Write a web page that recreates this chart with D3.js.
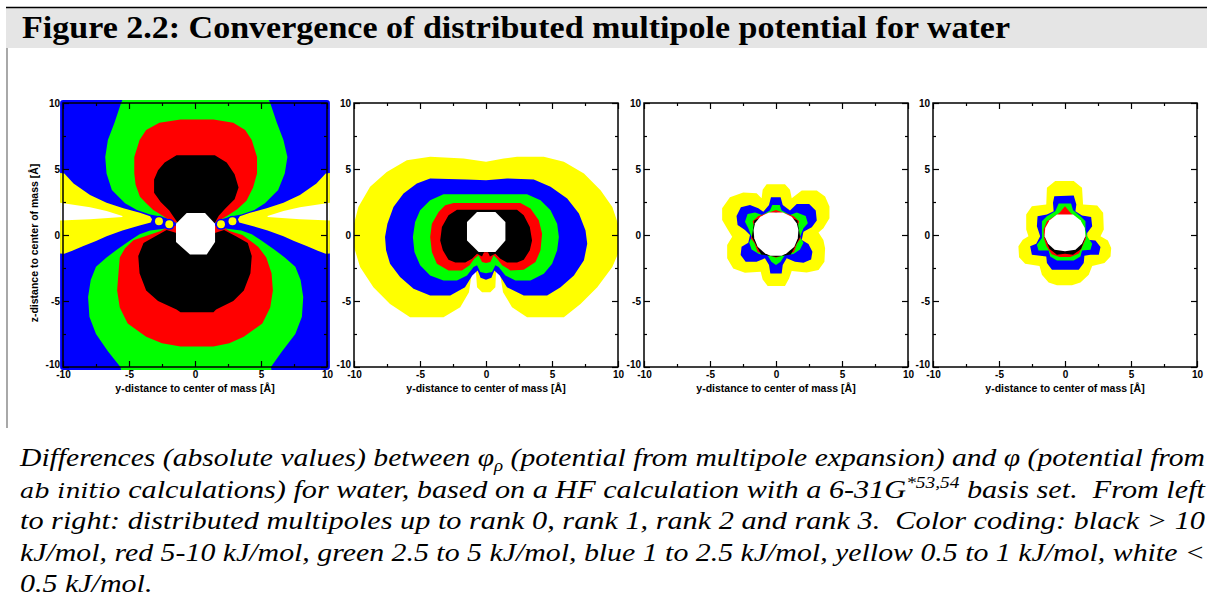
<!DOCTYPE html>
<html>
<head>
<meta charset="utf-8">
<script src="https://cdn.jsdelivr.net/npm/d3@7"></script>
<style>
  body { margin: 0; background: #ffffff; }
  svg { display: block; }
</style>
</head>
<body>
<svg id="fig" width="1207" height="612"></svg>
<script>
// ---------------- data (y, z coordinates in Å) ----------------
const axisTicks = [-10, -5, 0, 5, 10];
const minorTicks = [-7.5, -2.5, 2.5, 7.5];
const levelNames = ["black", "red", "green", "blue", "yellow", "white"];
const levelColors = ["#000000", "#ff0000", "#00ff00", "#0000ff", "#ffff00", "#ffffff"];

// rank 0
const rank0Blue = [[-10.22,-10.22],[10.22,-10.22],[10.22,10.22],[-10.22,10.22]];
const rank0GreenUpper = [[-5.5,10.22],[-5.6,10],[-6.1,8.5],[-6.6,7.2],[-6.8,5.9],[-6.7,4.65],[-6.3,3.4],[-5.3,2.4],[-4.4,1.9],[-3.4,1.55],[-2.6,1.4],[-1.8,1.15],[-1.4,0.9],[1.5,0.9],[1.9,1.15],[2.7,1.4],[3.5,1.55],[4.5,1.9],[5.3,2.4],[6.3,3.4],[6.8,4.65],[7.0,5.9],[6.7,7.2],[6.2,8.5],[5.7,10],[5.6,10.22]];
const rank0GreenLower = [[-1.5,0.6],[-2.5,0.45],[-3.4,0.35],[-4.2,0.05],[-4.9,-0.4],[-5.9,-1.1],[-6.7,-1.7],[-7.5,-2.4],[-7.9,-3.4],[-8.1,-4.7],[-8.0,-6.2],[-7.5,-7.5],[-6.6,-8.8],[-5.65,-10],[-5.6,-10.22],[5.8,-10.22],[5.75,-10],[6.6,-8.8],[7.6,-7.5],[8.1,-6.2],[8.2,-4.7],[8.0,-3.4],[7.6,-2.4],[6.8,-1.7],[6.0,-1.1],[5.0,-0.4],[4.3,0.05],[3.5,0.35],[2.6,0.45],[1.6,0.6]];
const rank0RedUpper = [[-1.5,0.95],[-2.15,1.26],[-2.6,1.55],[-3.16,1.9],[-3.7,2.4],[-4.17,2.9],[-4.5,3.8],[-4.6,4.66],[-4.6,5.9],[-4.2,7.2],[-3.7,7.95],[-2.7,8.5],[-1.1,8.75],[1.4,8.75],[2.9,8.5],[3.8,7.95],[4.3,7.2],[4.7,5.9],[4.7,4.66],[4.4,3.6],[3.9,2.6],[3.2,1.95],[2.6,1.55],[2.0,1.2],[1.6,0.95]];
const rank0RedLower = [[-1.5,0.7],[-1.8,0.75],[-2.6,0.3],[-3.5,0.0],[-4.67,-0.4],[-5.3,-1.0],[-5.7,-1.7],[-5.8,-2.9],[-5.9,-4.2],[-5.7,-5.5],[-5.1,-6.7],[-3.7,-7.7],[-2.5,-8.2],[-1.1,-8.45],[1.4,-8.45],[2.6,-8.2],[3.7,-7.7],[5.1,-6.7],[5.7,-5.5],[5.9,-4.2],[5.8,-2.9],[5.4,-1.7],[4.8,-0.9],[3.6,0.0],[2.6,0.3],[1.9,0.75],[1.6,0.7]];
const rank0BlackUpper = [[-1.3,0.9],[-1.6,1.35],[-1.95,1.85],[-2.6,2.5],[-3.1,3.2],[-3.1,4.2],[-2.8,4.9],[-2.3,5.5],[-1.4,6.05],[1.5,6.05],[2.4,5.5],[3.0,4.6],[3.3,3.6],[3.0,2.7],[2.3,2.0],[1.8,1.45],[1.5,0.9]];
const rank0BlackLower = [[-1.4,0.15],[-2.15,0.38],[-3.0,-0.1],[-3.9,-0.6],[-4.3,-1.6],[-4.2,-2.9],[-3.7,-4.2],[-2.8,-5.0],[-1.4,-5.65],[-1.1,-5.85],[1.4,-5.85],[1.6,-5.65],[2.9,-5.0],[3.7,-4.2],[4.2,-2.9],[4.3,-1.6],[4.0,-0.6],[3.1,-0.1],[2.2,0.38],[1.5,0.15]];
const rank0White = [[-0.63,1.67],[0.76,1.67],[1.52,0.86],[1.52,-0.53],[0.89,-1.47],[-0.38,-1.47],[-1.44,-0.53],[-1.44,0.86]];
const rank0YellowLeft = [[-10.22,4.7],[-9.9,4.66],[-9.2,3.9],[-7.95,3.03],[-6.7,2.45],[-5.43,2.02],[-4.17,1.69],[-3.4,1.42],[-3.25,1.2],[-3.35,0.95],[-4.2,0.72],[-5.5,0.35],[-6.7,-0.1],[-7.5,-0.45],[-8.5,-0.85],[-9.3,-1.2],[-9.9,-1.42],[-10.22,-1.4]];
const rank0YellowRight = [[10.22,4.7],[9.9,4.66],[9.2,3.9],[7.95,3.03],[6.7,2.45],[5.43,2.02],[4.17,1.69],[3.4,1.42],[3.25,1.2],[3.35,0.95],[4.2,0.72],[5.5,0.35],[6.7,-0.1],[7.5,-0.45],[8.5,-0.85],[9.3,-1.2],[9.9,-1.42],[10.22,-1.4]];
const rank0WhiteLeft = [[-10.22,2.45],[-7.95,2.1],[-6.7,1.82],[-5.5,1.44],[-5.5,1.36],[-7.95,1.19],[-10.22,1.09]];
const rank0WhiteRight = [[10.22,2.45],[7.95,2.1],[6.7,1.82],[5.5,1.44],[5.5,1.36],[7.95,1.19],[10.22,1.09]];
const rank0Dots = [[-2.73,1.04],[-1.95,0.81],[1.97,0.81],[2.84,1.04]];

// rank 1
const rank1Yellow = [[0,5.54],[1.34,5.8],[2.35,5.92],[4.38,5.92],[5.9,5.54],[7.42,4.66],[8.68,3.39],[9.57,2.13],[10,0.86],[10,-1.42],[9.57,-2.43],[8.43,-3.95],[7.16,-5.22],[5.9,-6.23],[3.11,-6.23],[1.97,-5.47],[1.29,-4.33],[1.04,-2.81],[0.76,-2.81],[0.71,-3.95],[0.33,-4.33],[-0.3,-4.33],[-0.68,-3.95],[-0.76,-2.81],[-1.06,-2.81],[-1.29,-4.33],[-1.95,-5.47],[-3.22,-6.23],[-5.75,-6.23],[-7.27,-5.22],[-8.53,-3.95],[-9.54,-2.43],[-10,-0.91],[-10,0.86],[-9.67,2.13],[-8.78,3.65],[-7.52,4.78],[-6.0,5.67],[-4.23,5.92],[-1.7,5.8]];
const rank1Blue = [[0,4.15],[1.59,4.28],[3.62,4.2],[4.89,3.65],[6.15,2.76],[7.04,1.62],[7.54,0.35],[7.67,-0.66],[7.42,-1.92],[6.66,-3.06],[5.65,-3.95],[4.63,-4.58],[2.86,-4.58],[1.59,-3.95],[1.04,-3.06],[0.63,-2.68],[0.41,-3.24],[0,-3.39],[-0.41,-3.24],[-0.63,-2.68],[-1.04,-3.06],[-1.59,-3.95],[-2.71,-4.58],[-4.23,-4.58],[-5.49,-4.08],[-6.51,-3.19],[-7.27,-2.18],[-7.57,-1.16],[-7.65,-0.15],[-7.47,0.86],[-7.01,2.13],[-6.25,3.14],[-5.24,3.9],[-4.23,4.28],[-1.44,4.2]];
const rank1Green = [[-3.22,3.09],[3.11,3.09],[4.13,2.63],[4.89,1.87],[5.39,0.86],[5.52,-0.15],[5.39,-1.16],[5.01,-2.18],[4.38,-2.94],[3.37,-3.44],[2.23,-3.44],[1.47,-3.06],[0.96,-2.43],[0.71,-2.3],[0.46,-2.81],[0,-2.89],[-0.43,-2.81],[-0.68,-2.3],[-0.94,-2.43],[-1.44,-3.06],[-2.2,-3.44],[-3.22,-3.44],[-4.23,-3.06],[-4.99,-2.3],[-5.42,-1.29],[-5.54,-0.15],[-5.37,0.99],[-4.99,1.87],[-4.23,2.63]];
const rank1Red = [[-2.46,2.43],[2.61,2.43],[3.37,2.0],[4.0,1.11],[4.25,0.1],[4.13,-1.16],[3.75,-2.05],[2.86,-2.63],[1.85,-2.68],[1.22,-2.3],[0.84,-1.8],[0.58,-1.54],[0.33,-2.05],[0,-2.13],[-0.3,-2.05],[-0.56,-1.54],[-0.89,-1.8],[-1.24,-2.3],[-1.82,-2.68],[-2.84,-2.68],[-3.72,-2.18],[-4.1,-1.29],[-4.23,-0.15],[-4.1,0.86],[-3.59,1.75],[-3.09,2.25]];
const rank1Black = [[-2.2,1.92],[2.35,1.92],[2.86,1.49],[3.32,0.61],[3.49,-0.41],[3.32,-1.16],[2.86,-1.87],[2.35,-2.08],[1.59,-2.08],[1.09,-1.8],[0.71,-1.42],[0.3,-1.62],[0.15,-1.3],[-0.15,-1.3],[-0.3,-1.62],[-0.68,-1.42],[-1.06,-1.8],[-1.57,-2.08],[-2.33,-2.08],[-2.84,-1.87],[-3.27,-1.16],[-3.47,-0.41],[-3.34,0.61],[-2.84,1.49]];
const rank1White = [[-0.68,1.75],[0.71,1.75],[1.47,0.99],[1.47,-0.41],[0.71,-1.29],[-0.56,-1.29],[-1.44,-0.41],[-1.44,0.99]];

// rank 2
const rank2Yellow = [[-0.71,3.85],[0.68,3.85],[1.06,3.42],[1.19,2.78],[1.95,3.37],[3.09,3.37],[3.72,2.91],[4.05,2.15],[4.05,1.27],[3.59,0.51],[3.22,0.18],[3.59,-0.38],[3.72,-1.01],[3.67,-2.03],[3.22,-2.66],[2.33,-2.84],[1.19,-2.73],[0.99,-3.29],[0.68,-3.87],[-0.63,-3.87],[-1.01,-3.37],[-1.16,-2.78],[-2.35,-2.86],[-3.24,-2.53],[-3.7,-1.77],[-3.7,-0.76],[-3.32,-0.13],[-3.67,0.43],[-4.08,1.14],[-4.08,2.03],[-3.49,2.86],[-2.48,3.22],[-1.47,3.16],[-1.09,2.78],[-1.01,3.42]];
const rank2Blue = [[-0.38,2.86],[0.35,2.86],[0.51,2.28],[1.06,1.85],[1.57,2.35],[2.51,2.35],[3.01,1.85],[3.09,1.09],[2.71,0.58],[2.08,0.25],[1.95,-0.38],[2.46,-0.68],[2.76,-1.27],[2.66,-1.85],[2.08,-2.1],[1.44,-2.03],[0.81,-1.77],[0.51,-2.28],[0.43,-2.91],[-0.43,-2.91],[-0.53,-2.28],[-0.84,-1.77],[-1.47,-2.03],[-2.3,-2.03],[-2.68,-1.52],[-2.61,-0.89],[-2.1,-0.58],[-1.97,0],[-2.35,0.38],[-2.91,0.76],[-2.99,1.44],[-2.66,2.1],[-1.97,2.28],[-1.34,2.03],[-0.96,1.77],[-0.53,2.28]];
const rank2Green = [[-0.28,2.28],[0.28,2.28],[0.43,1.85],[1.06,1.52],[1.57,1.7],[2.25,1.44],[2.41,0.89],[2.08,0.51],[1.82,-0.13],[2.08,-0.58],[1.82,-1.09],[1.32,-1.44],[0.68,-1.52],[0.35,-2.03],[0,-2.28],[-0.35,-2.03],[-0.66,-1.52],[-1.29,-1.44],[-1.85,-1.09],[-2.03,-0.58],[-1.85,-0.13],[-2.1,0.51],[-2.35,1.01],[-2.15,1.6],[-1.59,1.7],[-1.04,1.52],[-0.46,1.85]];
const rank2Red = [[0,1.9],[0.68,1.65],[1.32,1.44],[1.75,1.05],[1.6,0.51],[1.88,-0.25],[1.6,-0.63],[1.36,-1.3],[0.68,-1.42],[0,-1.72],[-0.68,-1.42],[-1.38,-1.3],[-1.62,-0.63],[-1.9,-0.25],[-1.62,0.51],[-1.77,1.05],[-1.34,1.44],[-0.68,1.65]];
const rank2Black = [[0,1.72],[1.62,1.12],[1.83,-0.16],[1.12,-1.47],[0,-1.66],[-1.12,-1.47],[-1.83,-0.16],[-1.64,1.12]];
const rank2White = [[-0.53,1.7],[0.53,1.7],[1.19,1.39],[1.57,0.89],[1.7,0.38],[1.65,-0.25],[1.39,-0.89],[0.81,-1.39],[0.43,-1.57],[-0.43,-1.57],[-0.84,-1.39],[-1.39,-0.89],[-1.65,-0.25],[-1.7,0.38],[-1.59,0.89],[-1.19,1.39]];

// rank 3
const rank3Yellow = [[-0.74,4.09],[0.66,4.09],[1.29,3.58],[1.37,2.31],[2.44,2.23],[2.89,1.68],[2.94,0.41],[2.69,-0.1],[3.25,-0.41],[3.5,-0.99],[3.45,-1.62],[2.99,-2.13],[2.06,-2.34],[1.8,-3.02],[1.17,-3.6],[0.53,-3.81],[-0.61,-3.81],[-1.24,-3.6],[-1.75,-3.02],[-1.93,-2.34],[-3.02,-2.18],[-3.48,-1.68],[-3.53,-0.86],[-3.2,-0.36],[-2.77,-0.1],[-2.94,0.41],[-2.94,1.55],[-2.51,2.18],[-1.42,2.31],[-1.37,3.58]];
const rank3Blue = [[-0.81,2.94],[0.66,2.99],[0.86,2.31],[0.79,1.8],[1.29,1.47],[1.98,1.37],[2.06,0.66],[1.68,0.15],[1.68,-0.36],[2.31,-0.41],[2.69,-0.91],[2.56,-1.5],[1.93,-1.5],[1.47,-1.57],[1.42,-2.13],[1.04,-2.64],[-0.99,-2.64],[-1.37,-2.13],[-1.42,-1.62],[-1.88,-1.57],[-2.51,-1.5],[-2.64,-0.86],[-2.18,-0.66],[-1.88,-0.1],[-2.13,0.66],[-2.08,1.42],[-1.37,1.55],[-0.86,1.8],[-0.91,2.44]];
const rank3Green = [[-0.48,2.39],[0.46,2.39],[0.61,1.88],[1.17,1.42],[1.55,1.04],[1.55,0.41],[1.68,-0.1],[2.06,-0.66],[1.93,-1.12],[1.29,-1.17],[1.17,-1.62],[0.66,-1.93],[-0.61,-1.93],[-1.12,-1.62],[-1.24,-1.17],[-2.01,-1.17],[-2.13,-0.74],[-1.75,-0.23],[-1.75,0.41],[-1.75,1.04],[-1.37,1.42],[-0.74,1.8]];
const rank3Red = [[0,2.18],[0.41,1.68],[1.17,1.04],[1.42,0.41],[1.6,-0.23],[1.32,-0.86],[1.06,-1.4],[0.41,-1.66],[-0.41,-1.66],[-1.01,-1.45],[-1.4,-0.86],[-1.6,-0.23],[-1.62,0.41],[-1.37,1.04],[-0.41,1.68]];
const rank3Black = [[-1.57,-0.1],[-1.17,-1.07],[-0.61,-1.5],[0,-1.42],[0.61,-1.5],[1.22,-1.07],[1.57,-0.1],[1.17,0.41],[0,0.5],[-1.2,0.4]];
const rank3White = [[-0.61,1.55],[0.61,1.55],[1.17,1.12],[1.5,0.53],[1.55,-0.1],[1.29,-0.66],[0.79,-1.12],[0,-1.24],[-0.79,-1.12],[-1.29,-0.66],[-1.55,-0.1],[-1.5,0.53],[-1.17,1.12]];

// ---------------- layout ----------------
const svg = d3.select("#fig");
const W = 1207;
const panelLefts = [63, 354, 644, 933];
const panelTop = 103, panelSize = 264;
const labelFont = "'Liberation Sans', Arial, Helvetica, sans-serif";
const serifFont = "'Liberation Serif', 'Times New Roman', serif";

const color = d3.scaleOrdinal().domain(levelNames).range(levelColors);

const panels = [
  { layers: [["blue", rank0Blue], ["green", rank0GreenUpper], ["green", rank0GreenLower],
             ["red", rank0RedUpper], ["red", rank0RedLower], ["black", rank0BlackUpper],
             ["black", rank0BlackLower], ["white", rank0White],
             ["yellow", rank0YellowLeft], ["yellow", rank0YellowRight],
             ["white", rank0WhiteLeft], ["white", rank0WhiteRight]],
    dots: rank0Dots },
  { layers: [["yellow", rank1Yellow], ["blue", rank1Blue], ["green", rank1Green],
             ["red", rank1Red], ["black", rank1Black], ["white", rank1White]], dots: [] },
  { layers: [["yellow", rank2Yellow], ["blue", rank2Blue], ["green", rank2Green],
             ["red", rank2Red], ["black", rank2Black], ["white", rank2White]], dots: [] },
  { layers: [["yellow", rank3Yellow], ["blue", rank3Blue], ["green", rank3Green],
             ["red", rank3Red], ["black", rank3Black], ["white", rank3White]], dots: [] }
];

// ---------------- header ----------------
svg.append("rect").attr("x", 6).attr("y", 8).attr("width", W - 6).attr("height", 40).attr("fill", "#e5e5e5");
svg.append("line").attr("x1", 6).attr("x2", W).attr("y1", 7.5).attr("y2", 7.5)
  .attr("stroke", "#000").attr("stroke-width", 1.5);
svg.append("line").attr("x1", 7).attr("x2", 7).attr("y1", 48).attr("y2", 428)
  .attr("stroke", "#7a7a7a").attr("stroke-width", 1.3);
svg.append("text").attr("x", 22).attr("y", 38)
  .attr("font-family", serifFont).attr("font-weight", "bold").attr("font-size", 32)
  .attr("textLength", 988).attr("lengthAdjust", "spacingAndGlyphs")
  .text("Figure 2.2: Convergence of distributed multipole potential for water");

// ---------------- panels ----------------
const defs = svg.append("defs");

panels.forEach((p, i) => {
  const left = panelLefts[i];
  const x = d3.scaleLinear().domain([-10, 10]).range([left, left + panelSize]);
  const y = d3.scaleLinear().domain([-10, 10]).range([panelTop + panelSize, panelTop]);
  const g = svg.append("g").attr("class", "panel");

  const clipId = "clip" + i;
  defs.append("clipPath").attr("id", clipId).append("rect")
    .attr("x", x(-10) - 3).attr("y", y(10) - 3)
    .attr("width", panelSize + 6).attr("height", panelSize + 6).attr("rx", 3);

  const area = g.append("g").attr("clip-path", `url(#${clipId})`);
  const line = d3.line().x(d => x(d[0])).y(d => y(d[1])).curve(d3.curveLinearClosed);

  area.selectAll("path.level").data(p.layers).join("path")
    .attr("class", "level")
    .attr("d", d => line(d[1]))
    .attr("fill", d => color(d[0]));

  const r = Math.abs(x(0.3) - x(0));
  area.selectAll("circle.halo").data(p.dots).join("circle")
    .attr("class", "halo").attr("cx", d => x(d[0])).attr("cy", d => y(d[1]))
    .attr("r", r * 1.4).attr("fill", color("blue"));
  area.selectAll("circle.dot").data(p.dots).join("circle")
    .attr("class", "dot").attr("cx", d => x(d[0])).attr("cy", d => y(d[1]))
    .attr("r", r).attr("fill", color("yellow"));

  // axes with inward ticks on all four sides
  const styleAxis = sel => {
    sel.select(".domain").remove();
    sel.selectAll("line").attr("stroke", "#000").attr("stroke-width", 1.2);
    sel.selectAll("text").attr("font-family", labelFont).attr("font-weight", "bold")
      .attr("font-size", 10).attr("fill", "#000");
  };
  const fmt = d => String(d);
  const bottom = y(-10), top = y(10), l = x(-10), rgt = x(10);

  g.append("g").attr("transform", `translate(0,${bottom})`)
    .call(d3.axisBottom(x).tickValues(axisTicks).tickSize(-6).tickSizeOuter(0).tickPadding(4).tickFormat(fmt))
    .call(styleAxis);
  g.append("g").attr("transform", `translate(0,${bottom})`)
    .call(d3.axisBottom(x).tickValues(minorTicks).tickSize(-3).tickSizeOuter(0).tickFormat(""))
    .call(styleAxis);
  const yAxis = g.append("g").attr("transform", `translate(${l},0)`)
    .call(d3.axisLeft(y).tickValues(axisTicks).tickSize(-6).tickSizeOuter(0).tickPadding(3).tickFormat(fmt))
    .call(styleAxis);
  // lowest label sits a little above its tick, clear of the x labels
  yAxis.selectAll(".tick").filter(d => d === -10).select("text").attr("dy", "0.05em");
  g.append("g").attr("transform", `translate(${l},0)`)
    .call(d3.axisLeft(y).tickValues(minorTicks).tickSize(-3).tickSizeOuter(0).tickFormat(""))
    .call(styleAxis);
  g.append("g").attr("transform", `translate(0,${top})`)
    .call(d3.axisTop(x).tickValues(axisTicks).tickSize(-6).tickSizeOuter(0).tickFormat(""))
    .call(styleAxis);
  g.append("g").attr("transform", `translate(0,${top})`)
    .call(d3.axisTop(x).tickValues(minorTicks).tickSize(-3).tickSizeOuter(0).tickFormat(""))
    .call(styleAxis);
  g.append("g").attr("transform", `translate(${rgt},0)`)
    .call(d3.axisRight(y).tickValues(axisTicks).tickSize(-6).tickSizeOuter(0).tickFormat(""))
    .call(styleAxis);
  g.append("g").attr("transform", `translate(${rgt},0)`)
    .call(d3.axisRight(y).tickValues(minorTicks).tickSize(-3).tickSizeOuter(0).tickFormat(""))
    .call(styleAxis);

  g.append("rect").attr("x", l).attr("y", top).attr("width", rgt - l).attr("height", bottom - top)
    .attr("fill", "none").attr("stroke", "#000").attr("stroke-width", 1.5);

  g.append("text").attr("x", (l + rgt) / 2).attr("y", 392)
    .attr("text-anchor", "middle").attr("font-family", labelFont).attr("font-weight", "bold")
    .attr("font-size", 10.5).text("y-distance to center of mass [Å]");

  if (i === 0) {
    g.append("text").attr("transform", `translate(38,${(top + bottom) / 2 + 8}) rotate(-90)`)
      .attr("text-anchor", "middle").attr("font-family", labelFont).attr("font-weight", "bold")
      .attr("font-size", 10.5).text("z-distance to center of mass [Å]");
  }
});

// ---------------- caption ----------------
const captionLines = [
  [["Differences (absolute values) between φ"], ["ρ", "sub"], [" (potential from multipole expansion) and φ (potential from"]],
  [["ab initio", "alt"], [" calculations) for water, based on a HF calculation with a 6-31G"], ["*53,54", "sup"], [" basis set.  From left"]],
  [["to right: distributed multipoles up to rank 0, rank 1, rank 2 and rank 3.  Color coding: black > 10"]],
  [["kJ/mol, red 5-10 kJ/mol, green 2.5 to 5 kJ/mol, blue 1 to 2.5 kJ/mol, yellow 0.5 to 1 kJ/mol, white <"]],
  [["0.5 kJ/mol."]]
];
const capLeft = 20, capRight = 1205, capTop = 466, capStep = 31.5;

const capNodes = captionLines.map((segs, li) => {
  const t = svg.append("text").attr("x", capLeft).attr("y", capTop + li * capStep)
    .attr("font-family", serifFont).attr("font-style", "italic").attr("font-size", 25)
    .attr("fill", "#000").attr("xml:space", "preserve").style("white-space", "pre");
  let shift = 0;
  segs.forEach(([txt, kind]) => {
    const ts = t.append("tspan").text(txt);
    let target = 0;
    if (kind === "sub") target = 5;
    else if (kind === "sup") target = -10;
    if (target !== shift) { ts.attr("dy", target - shift); shift = target; }
    if (kind === "sub" || kind === "sup") ts.attr("font-size", 16);
    if (kind === "alt") ts.attr("font-family", "'DejaVu Serif', serif").attr("font-size", 20);
  });
  return t;
});

// full lines are justified to the text block; the last line keeps the same glyph width
const factors = [];
capNodes.forEach((t, li) => {
  const natural = t.node().getComputedTextLength();
  if (li < capNodes.length - 1) {
    factors.push((capRight - capLeft) / natural);
    t.attr("textLength", capRight - capLeft).attr("lengthAdjust", "spacingAndGlyphs");
  } else {
    t.attr("textLength", natural * d3.mean(factors)).attr("lengthAdjust", "spacingAndGlyphs");
  }
});
</script>
</body>
</html>
